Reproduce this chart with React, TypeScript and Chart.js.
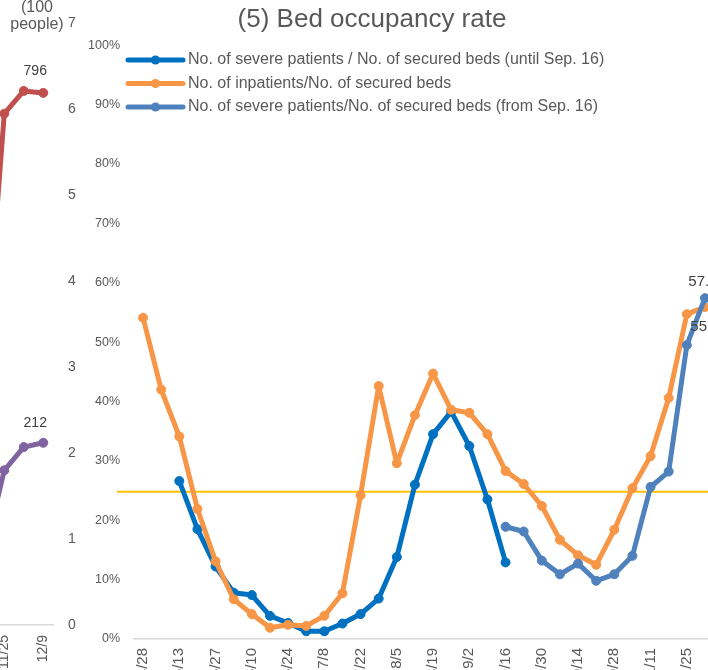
import React, { useEffect, useRef } from 'react';
import { Chart, registerables } from 'chart.js';

Chart.register(...registerables);

const FONT = "'Liberation Sans', Arial, sans-serif";
const GREY = '#595959';
const LABEL_GREY = '#404040';

// ---- main chart data (percent) ----
const weekLabels = ['4/28', '5/6', '5/13', '5/20', '5/27', '6/3', '6/10', '6/17', '6/24', '7/1', '7/8', '7/15', '7/22', '7/29', '8/5', '8/12', '8/19', '8/26', '9/2', '9/9', '9/16', '9/23', '9/30', '10/7', '10/14', '10/21', '10/28', '11/4', '11/11', '11/18', '11/25', '12/2'];
const severeUntilSep16 = [null, null, 26.6, 18.5, 12.2, 7.8, 7.4, 3.9, 2.7, 1.3, 1.3, 2.6, 4.2, 6.8, 13.8, 26.0, 34.5, 38.3, 32.5, 23.5, 12.9, null, null, null, null, null, null, null, null, null, null, null];
const inpatientsRate = [54.1, 42.0, 34.1, 21.9, 13.1, 6.7, 4.2, 1.9, 2.4, 2.2, 3.9, 7.7, 24.2, 42.6, 29.6, 37.7, 44.7, 38.6, 38.1, 34.5, 28.3, 26.1, 22.4, 16.7, 14.1, 12.5, 18.4, 25.4, 30.8, 40.6, 54.7, 55.9];
const severeFromSep16 = [null, null, null, null, null, null, null, null, null, null, null, null, null, null, null, null, null, null, null, null, 18.9, 18.1, 13.2, 10.9, 12.7, 9.8, 10.9, 14.0, 25.6, 28.2, 49.5, 57.4];
const thresholdRate = [24.8];
const yTickMin = 0;
const yTickMax = 100;
const yTickStep = 10;

// ---- left (cropped) chart data ----
const leftLabels = ['11/18', '11/25', '12/2', '12/9'];
const seriesRed = [380, 765, 799, 796];
const seriesPurple = [85, 180, 207, 212];
const leftAxisMax = 700; // people, ticks shown in units of 100
const redAxisMax = 900;

const legendPlugin = {
  id: 'customLegend',
  afterDraw(chart: any) {
    const ctx = chart.ctx;
    const rows = [60, 83.5, 107];
    const x0 = 128, x1 = 183, tx = 188;
    ctx.save();
    chart.data.datasets.forEach((ds: any, i: number) => {
      const y = rows[i];
      ctx.strokeStyle = ds.borderColor;
      ctx.lineWidth = 5;
      ctx.lineCap = 'round';
      ctx.beginPath();
      ctx.moveTo(x0, y);
      ctx.lineTo(x1, y);
      ctx.stroke();
      ctx.fillStyle = ds.borderColor;
      ctx.beginPath();
      ctx.arc((x0 + x1) / 2, y, 4.5, 0, Math.PI * 2);
      ctx.fill();
      ctx.fillStyle = GREY;
      ctx.font = `16px ${FONT}`;
      ctx.textAlign = 'left';
      ctx.textBaseline = 'middle';
      ctx.fillText(ds.label, tx, y);
    });
    ctx.restore();
  },
};

const thresholdPlugin = {
  id: 'threshold',
  beforeDatasetsDraw(chart: any) {
    const ctx = chart.ctx;
    const y = chart.scales.y.getPixelForValue(thresholdRate[0]);
    ctx.save();
    ctx.strokeStyle = '#FFC000';
    ctx.lineWidth = 2;
    ctx.beginPath();
    ctx.moveTo(chart.chartArea.left - 17, y);
    ctx.lineTo(chart.width, y);
    ctx.stroke();
    ctx.restore();
  },
};

const lastLabelPlugin = {
  id: 'lastLabel',
  afterDatasetsDraw(chart: any) {
    const ctx = chart.ctx;
    ctx.save();
    chart.data.datasets.forEach((ds: any, di: number) => {
      if (!ds.lastLabel) return;
      const meta = chart.getDatasetMeta(di);
      let idx = -1;
      ds.data.forEach((v: any, i: number) => { if (v !== null && v !== undefined) idx = i; });
      if (idx < 0) return;
      const pt = meta.data[idx];
      const cfg = ds.lastLabel;
      ctx.fillStyle = LABEL_GREY;
      ctx.font = `${cfg.size}px ${FONT}`;
      ctx.textAlign = 'center';
      ctx.textBaseline = 'middle';
      ctx.fillText(cfg.format(ds.data[idx]), pt.x + cfg.dx, pt.y + cfg.dy);
    });
    ctx.restore();
  },
};

const axisTitlePlugin = {
  id: 'axisTitle',
  afterDraw(chart: any) {
    const ctx = chart.ctx;
    const cx = chart.chartArea.right - 16;
    ctx.save();
    ctx.fillStyle = GREY;
    ctx.font = `16px ${FONT}`;
    ctx.textAlign = 'center';
    ctx.textBaseline = 'middle';
    ctx.fillText('(100', cx, 8);
    ctx.fillText('people)', cx, 25);
    ctx.restore();
  },
};

function lineDs(label: string, data: any[], color: string, order: number, extra: any = {}) {
  return {
    label,
    data,
    borderColor: color,
    backgroundColor: color,
    pointBackgroundColor: color,
    pointBorderColor: color,
    borderWidth: 5,
    borderJoinStyle: 'round',
    borderCapStyle: 'round',
    pointRadius: 4.5,
    pointBorderWidth: 1,
    tension: 0,
    spanGaps: false,
    order,
    ...extra,
  };
}

export default function App() {
  const leftRef = useRef<HTMLCanvasElement>(null);
  const mainRef = useRef<HTMLCanvasElement>(null);

  useEffect(() => {
    const left = new Chart(leftRef.current as HTMLCanvasElement, {
      type: 'line',
      data: {
        labels: leftLabels,
        datasets: [
          lineDs('Series A', seriesRed, '#C0504D', 1, { yAxisID: 'yRed', lastLabel: { dx: -8, dy: -22, size: 14, format: (v: number) => String(v) } }),
          lineDs('Series B', seriesPurple, '#8064A2', 0, { yAxisID: 'y', lastLabel: { dx: -8, dy: -20, size: 14, format: (v: number) => String(v) } }),
        ] as any,
      },
      options: {
        responsive: false,
        animation: false,
        devicePixelRatio: 1,
        layout: { padding: { top: 23, left: 15, right: 0, bottom: 0 } },
        plugins: { legend: { display: false }, tooltip: { enabled: false }, title: { display: false } },
        scales: {
          x: {
            offset: true,
            grid: { display: false, drawTicks: false },
            border: { display: true, color: '#D9D9D9', width: 1.5 },
            ticks: {
              autoSkip: false, minRotation: 90, maxRotation: 90, padding: 10,
              color: GREY, font: { family: FONT, size: 14 },
              callback: function (this: any, val: any, idx: number) {
                return (leftLabels.length - 1 - idx) % 2 === 0 ? leftLabels[idx] : '';
              },
            },
            afterFit: (s: any) => { s.height = 75; },
          },
          y: {
            position: 'right',
            min: 0, max: leftAxisMax,
            grid: { display: false, drawTicks: false },
            border: { display: false },
            ticks: { stepSize: 100, padding: 15, color: GREY, font: { family: FONT, size: 14 }, callback: (v: any) => String(Number(v) / 100) },
            afterFit: (s: any) => { s.width = 40; },
          },
          yRed: { display: false, min: 0, max: redAxisMax },
        },
      } as any,
      plugins: [lastLabelPlugin, axisTitlePlugin],
    });

    const main = new Chart(mainRef.current as HTMLCanvasElement, {
      type: 'line',
      data: {
        labels: weekLabels,
        datasets: [
          lineDs('No. of severe patients / No. of secured beds (until Sep. 16)', severeUntilSep16, '#0070C0', 2),
          lineDs('No. of inpatients/No. of secured beds', inpatientsRate, '#F79646', 1, { lastLabel: { dx: 0, dy: 20, size: 15, format: (v: number) => v.toFixed(1) } }),
          lineDs('No. of severe patients/No. of secured beds (from Sep. 16)', severeFromSep16, '#4F81BD', 0, { lastLabel: { dx: -2, dy: -16, size: 15, format: (v: number) => v.toFixed(1) } }),
        ] as any,
      },
      options: {
        responsive: false,
        animation: false,
        devicePixelRatio: 1,
        layout: { padding: 0 },
        plugins: {
          legend: { display: false },
          tooltip: { enabled: false },
          title: {
            display: true,
            text: '(5) Bed occupancy rate',
            color: GREY,
            font: { family: FONT, size: 26, weight: 'normal' },
            padding: { top: 4, bottom: 10 },
          },
        },
        scales: {
          x: {
            offset: true,
            grid: { display: false, drawTicks: false },
            border: { display: true, color: '#D9D9D9', width: 1.5 },
            ticks: {
              autoSkip: false, minRotation: 90, maxRotation: 90, padding: 9,
              color: GREY, font: { family: FONT, size: 15 },
              callback: function (this: any, val: any, idx: number) {
                return idx % 2 === 0 ? weekLabels[idx] : '';
              },
            },
            afterFit: (s: any) => { s.height = 61; },
          },
          y: {
            min: yTickMin, max: yTickMax,
            grid: { display: false, drawTicks: false },
            border: { display: false },
            ticks: { stepSize: yTickStep, padding: 14, color: GREY, font: { family: FONT, size: 12.5 }, callback: (v: any) => `${v}%` },
            afterFit: (s: any) => { s.width = 134; },
          },
          yPad: {
            position: 'right',
            grid: { display: false, drawTicks: false },
            border: { display: false },
            ticks: { display: false },
            afterFit: (s: any) => { s.width = 30; },
          },
        },
      } as any,
      plugins: [thresholdPlugin, lastLabelPlugin, legendPlugin],
    });

    return () => {
      left.destroy();
      main.destroy();
    };
  }, []);

  return (
    <div style={{ position: 'fixed', left: 0, top: 0, width: 708, height: 670, overflow: 'hidden', background: '#fff' }}>
      <canvas ref={leftRef} width={133} height={700} style={{ position: 'absolute', left: -40, top: 0, width: 133, height: 700 }} />
      <canvas ref={mainRef} width={744} height={700} style={{ position: 'absolute', left: 0, top: 0, width: 744, height: 700 }} />
    </div>
  );
}
